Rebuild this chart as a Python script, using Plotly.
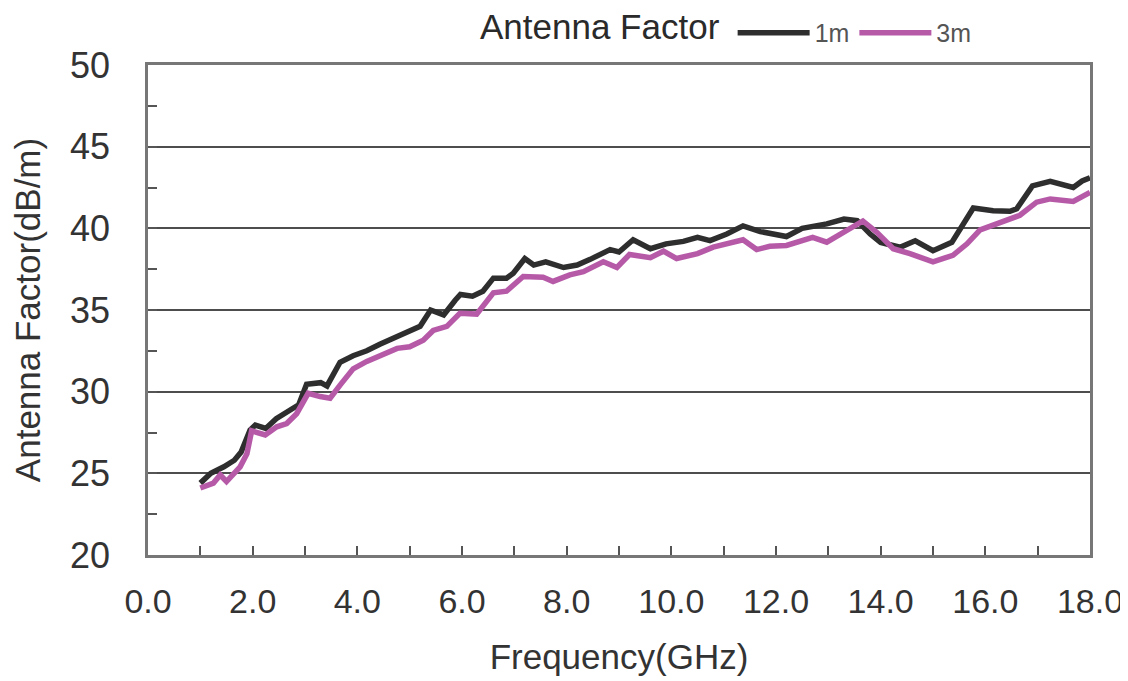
import plotly.graph_objects as go

# 1m antenna factor
freq_1m = [1.0, 1.2, 1.45, 1.65, 1.78, 1.95, 2.05, 2.25, 2.45, 2.7, 2.88, 3.03, 3.3, 3.42,
           3.67, 3.92, 4.18, 4.43, 4.7, 4.95, 5.2, 5.4, 5.65, 5.87, 5.97, 6.2, 6.4, 6.6,
           6.85, 6.98, 7.2, 7.37, 7.6, 7.94, 8.2, 8.45, 8.83, 9.0, 9.27, 9.6, 9.9, 10.23,
           10.5, 10.74, 11.06, 11.37, 11.7, 12.2, 12.5, 12.97, 13.3, 13.55, 13.8, 14.0,
           14.37, 14.66, 15.0, 15.36, 15.58, 15.77, 16.15, 16.47, 16.6, 16.9, 17.24, 17.5,
           17.68, 17.85, 18.0]
af_1m = [24.4, 25.0, 25.4, 25.8, 26.3, 27.65, 27.95, 27.75, 28.35, 28.85, 29.2, 30.45, 30.55, 30.35,
         31.8, 32.2, 32.5, 32.9, 33.3, 33.6, 34.0, 35.0, 34.7, 35.6, 35.95, 35.85, 36.15, 36.95,
         36.95, 37.25, 38.15, 37.75, 37.95, 37.6, 37.75, 38.1, 38.7, 38.55, 39.3, 38.75, 39.05, 39.2,
         39.45, 39.25, 39.65, 40.15, 39.8, 39.5, 40.0, 40.27, 40.57, 40.47, 39.65, 39.14,
         38.84, 39.24, 38.63, 39.14, 40.27, 41.24, 41.08, 41.04, 41.2, 42.6, 42.88, 42.7,
         42.5, 42.9, 43.1]

# 3m antenna factor
freq_3m = [1.0, 1.25, 1.38, 1.5, 1.76, 1.89, 1.98, 2.24, 2.46, 2.65, 2.84, 3.06, 3.29, 3.48,
           3.67, 3.92, 4.18, 4.49, 4.76, 5.0, 5.26, 5.45, 5.71, 5.96, 6.2, 6.28, 6.6, 6.85,
           7.17, 7.55, 7.74, 8.06, 8.32, 8.7, 8.96, 9.2, 9.6, 9.85, 10.1, 10.5, 10.8, 11.12,
           11.37, 11.63, 11.88, 12.2, 12.7, 12.97, 13.22, 13.66, 13.93, 14.24, 14.56, 15.0,
           15.38, 15.65, 15.9, 16.28, 16.66, 16.98, 17.24, 17.68, 18.0]
af_3m = [24.1, 24.4, 24.9, 24.5, 25.4, 26.2, 27.6, 27.35, 27.85, 28.05, 28.65, 29.9, 29.7, 29.6,
         30.4, 31.4, 31.85, 32.25, 32.65, 32.75, 33.15, 33.75, 34.0, 34.8, 34.7, 34.75, 36.05, 36.15,
         37.05, 37.0, 36.75, 37.15, 37.35, 37.95, 37.6, 38.4, 38.2, 38.6, 38.15, 38.45, 38.85, 39.1,
         39.3, 38.7, 38.9, 38.95, 39.45, 39.15, 39.65, 40.45, 39.75, 38.75, 38.45, 37.95,
         38.35, 39.05, 39.9, 40.35, 40.8, 41.6, 41.8, 41.65, 42.2]

series_names = ["1m", "3m"]
series_colors = ["#2e2e2e", "#b65aa8"]
legend_title = "Antenna Factor"

x_tick_vals = [0, 2, 4, 6, 8, 10, 12, 14, 16, 18]
x_tick_text = ["0.0", "2.0", "4.0", "6.0", "8.0", "10.0", "12.0", "14.0", "16.0", "18.0"]
y_tick_vals = [20, 25, 30, 35, 40, 45, 50]

FONT = "Liberation Sans, Arial, sans-serif"

fig = go.Figure()
fig.add_trace(go.Scatter(x=freq_1m, y=af_1m, mode="lines", name=series_names[0],
                         line=dict(color=series_colors[0], width=5.5)))
fig.add_trace(go.Scatter(x=freq_3m, y=af_3m, mode="lines", name=series_names[1],
                         line=dict(color=series_colors[1], width=5.5)))

# page body has an 8px margin, so the figure is sized to fill the rest of the window
fig.update_layout(
    width=1120, height=673,
    margin=dict(l=140, r=38, t=57, b=126, autoexpand=False),
    paper_bgcolor="white", plot_bgcolor="white",
    font=dict(family=FONT, color="#333333"),
    showlegend=True,
    legend=dict(
        orientation="h", xref="container", yref="container",
        x=0.647, xanchor="left", y=0.963, yanchor="middle",
        font=dict(size=25, color="#555555"),
        itemwidth=72, tracegroupgap=0, bgcolor="rgba(0,0,0,0)",
    ),
)
fig.add_annotation(
    text=legend_title, xref="paper", yref="paper", x=0.350, y=1.078,
    xanchor="left", yanchor="middle", showarrow=False,
    font=dict(size=35, color="#2a2a2a"),
)

fig.update_xaxes(
    range=[0, 18], tickvals=x_tick_vals, ticktext=x_tick_text,
    ticks="inside", ticklen=9, tickwidth=1.5, tickcolor="#555555",
    minor=dict(ticks="inside", dtick=1, ticklen=9, tickwidth=1.5, tickcolor="#555555"),
    showline=True, linecolor="#777777", linewidth=2.5, mirror=True,
    showgrid=False, zeroline=False, automargin=False,
    tickfont=dict(size=34, color="#333333"),
    ticklabelstandoff=14,
    title=dict(text="Frequency(GHz)", font=dict(size=35, color="#333333"), standoff=26),
)
fig.update_yaxes(
    range=[20, 50], tickvals=y_tick_vals,
    ticks="inside", ticklen=9, tickwidth=1.5, tickcolor="#555555",
    minor=dict(ticks="inside", dtick=2.5, ticklen=9, tickwidth=1.5, tickcolor="#555555"),
    showline=True, linecolor="#777777", linewidth=2.5, mirror=True,
    showgrid=True, gridcolor="#4d4d4d", gridwidth=1.8, zeroline=False, automargin=False,
    tickfont=dict(size=36, color="#333333"),
    ticklabelstandoff=28,
    title=dict(text="Antenna Factor(dB/m)", font=dict(size=35, color="#333333"), standoff=22),
)

fig.write_html("out.html")
